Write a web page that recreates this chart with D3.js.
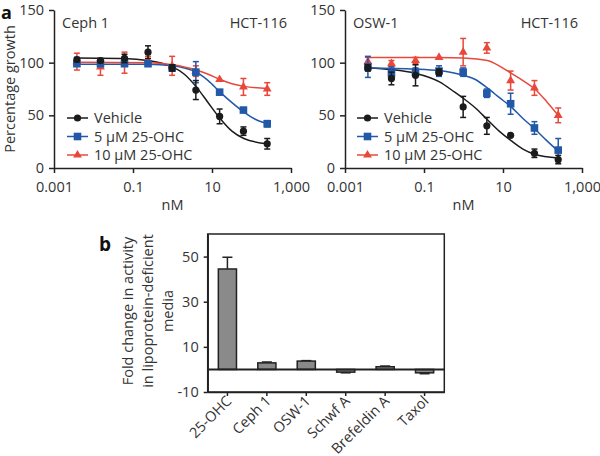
<!DOCTYPE html>
<html>
<head>
<meta charset="utf-8">
<script src="https://cdn.jsdelivr.net/npm/d3@7"></script>
<style>
  body { margin: 0; background: #fff; }
  svg { display: block; font-family: "Open Sans", "Noto Sans", sans-serif; }
  .axis path, .axis line { stroke: #222; stroke-width: 1.5; }
  .axis text { fill: #333; font-size: 14.5px; font-family: "Open Sans", sans-serif; }
  .lbl { fill: #333; font-size: 14.5px; }
</style>
</head>
<body>
<svg id="fig" width="600" height="456"></svg>
<script>
  // ---------- data: panel a ----------
  const conc = [0.0038, 0.015, 0.061, 0.24, 0.98, 3.9, 15.6, 62.5, 250];
  const seriesNames = ["Vehicle", "5 \u03bcM 25-OHC", "10 \u03bcM 25-OHC"];
  const seriesColors = ["#1b1b1b", "#2158a8", "#e8483b"];
  const seriesShapes = ["circle", "square", "triangle"];

  // Ceph 1
  const cephVehicle = [103, 102, 104, 110, 95, 74, 49, 35, 23];
  const cephVehicleErr = [2, 2, 4, 6, 3, 9, 7, 4, 5];
  const ceph5 = [99, 99, 99, 99, 95, 91, 72, 55, 42];
  const ceph5Err = [2, 2, 2, 2, 2, 10, 2, 2, 3];
  const ceph10 = [101, 96, 100, 102, 97, 92, 84, 77, 75];
  const ceph10Err = [8, 8, 10, 4, 9, 5, 1, 8, 6];
  // fitted curves: [nM, %]
  const cephVehicleFit = [[0.0038, 104.5], [0.06, 104], [0.24, 102], [0.6, 99], [1, 96], [2, 89], [4, 77], [8, 62], [16, 47], [32, 35], [64, 28], [250, 23]];
  const ceph5Fit = [[0.0038, 98.5], [0.24, 98.5], [1, 97], [2, 95], [4, 91], [8, 83], [16, 72], [32, 62], [64, 53], [128, 46], [250, 42]];
  const ceph10Fit = [[0.0038, 100.5], [0.24, 100], [1, 98], [4, 93], [8, 89], [16, 84], [32, 80], [64, 77.5], [250, 75.5]];

  // OSW-1
  const oswVehicle = [95, 85, 88, 91, 58, 40, 31, 14, 8];
  const oswVehicleErr = [3, 6, 10, 3, 10, 8, 1, 4, 4];
  const osw5 = [96, 90, 91, 92, 91, 71, 61, 38, 17];
  const osw5Err = [10, 6, 4, 5, 4, 4, 10, 6, 11];
  const osw10 = [101, 99, 102, 105, 110, 114, 83, 76, 50];
  const osw10Err = [4, 3, 3, 1, 13, 5, 9, 7, 7];
  const oswVehicleFit = [[0.0038, 95], [0.015, 93.5], [0.06, 90], [0.24, 82], [0.6, 72], [1, 66], [2, 57], [4, 46], [8, 35], [16, 26], [32, 18], [64, 13], [250, 9.5]];
  const osw5Fit = [[0.0038, 95], [0.06, 94], [0.24, 92.5], [1, 88], [2, 84], [4, 76], [8, 67], [16, 58], [32, 47], [64, 37], [128, 26], [250, 16]];
  const osw10Fit = [[0.0038, 105], [0.24, 105], [1, 104.5], [4, 102], [8, 97], [16, 90], [32, 83], [64, 75], [128, 63], [250, 50]];

  const xTicksA = [0.001, 0.1, 10, 1000];
  const xTickLabelsA = ["0.001", "0.1", "10", "1,000"];
  const yTicksA = [0, 50, 100, 150];

  // ---------- data: panel b ----------
  const compounds = ["25-OHC", "Ceph 1", "OSW-1", "Schwf A", "Brefeldin A", "Taxol"];
  const foldChange = [44.5, 2.9, 3.7, -1.2, 1.2, -1.5];
  const foldErr = [5.2, 0.4, 0.2, 0.3, 0.3, 0.4];
  const yTicksB = [-10, 10, 30, 50];

  const svg = d3.select("#fig");

  const panels = [
    { title: "Ceph 1", left: 54, right: 291,
      pts: [cephVehicle, ceph5, ceph10], errs: [cephVehicleErr, ceph5Err, ceph10Err],
      fits: [cephVehicleFit, ceph5Fit, ceph10Fit], legendX: 67 },
    { title: "OSW-1", left: 345, right: 582,
      pts: [oswVehicle, osw5, osw10], errs: [oswVehicleErr, osw5Err, osw10Err],
      fits: [oswVehicleFit, osw5Fit, osw10Fit], legendX: 357 }
  ];

  function marker(g, shape, color, cx, cy) {
    if (shape === "circle") {
      g.append("circle").attr("cx", cx).attr("cy", cy).attr("r", 3.6).attr("fill", color);
    } else if (shape === "square") {
      g.append("rect").attr("x", cx - 3.8).attr("y", cy - 3.8).attr("width", 7.6).attr("height", 7.6).attr("fill", color);
    } else {
      g.append("path").attr("transform", `translate(${cx},${cy})`)
        .attr("d", d3.symbol(d3.symbolTriangle, 34)()).attr("fill", color);
    }
  }

  panels.forEach((p, pi) => {
    const x = d3.scaleLog().domain([0.001, 1000]).range([p.left, p.right]);
    const y = d3.scaleLinear().domain([0, 150]).range([168, 10]);
    const g = svg.append("g");

    g.append("g").attr("class", "axis").attr("transform", "translate(0,168)")
      .call(d3.axisBottom(x).tickValues(xTicksA).tickFormat((d, i) => xTickLabelsA[i])
        .tickSize(5).tickSizeOuter(0).tickPadding(9));
    g.append("g").attr("class", "axis").attr("transform", `translate(${p.left},0)`)
      .call(d3.axisLeft(y).tickValues(yTicksA).tickSize(5).tickSizeOuter(0).tickPadding(5));

    // fitted curves
    const line = d3.line().x(d => x(d[0])).y(d => y(d[1])).curve(d3.curveMonotoneX);
    p.fits.forEach((f, si) => {
      g.append("path").datum(f).attr("d", line)
        .attr("fill", "none").attr("stroke", seriesColors[si]).attr("stroke-width", 1.5);
    });

    // error bars + markers (red drawn first so black sits on top)
    [2, 1, 0].forEach(si => {
      const col = seriesColors[si];
      const eg = g.append("g");
      conc.forEach((c, i) => {
        const v = p.pts[si][i], e = p.errs[si][i];
        const cx = x(c);
        if (e > 1.5) {
          eg.append("line").attr("x1", cx).attr("x2", cx).attr("y1", y(v - e)).attr("y2", y(v + e))
            .attr("stroke", col).attr("stroke-width", 1.5);
          [v - e, v + e].forEach(t => {
            eg.append("line").attr("x1", cx - 3).attr("x2", cx + 3).attr("y1", y(t)).attr("y2", y(t))
              .attr("stroke", col).attr("stroke-width", 1.5);
          });
        }
        marker(eg, seriesShapes[si], col, cx, y(v));
      });
    });

    // titles
    g.append("text").attr("class", "lbl").attr("x", p.left + 8).attr("y", 28).text(p.title);
    g.append("text").attr("class", "lbl").attr("x", p.right - 4).attr("y", 28)
      .attr("text-anchor", "end").text("HCT-116");
    g.append("text").attr("class", "lbl").attr("x", (p.left + p.right) / 2).attr("y", 210)
      .attr("text-anchor", "middle").text("nM");

    // legend
    const ly = [118, 136.5, 155];
    seriesNames.forEach((n, si) => {
      const lg = g.append("g");
      lg.append("line").attr("x1", p.legendX).attr("x2", p.legendX + 21)
        .attr("y1", ly[si]).attr("y2", ly[si]).attr("stroke", seriesColors[si]).attr("stroke-width", 1.5);
      marker(lg, seriesShapes[si], seriesColors[si], p.legendX + 10.5, ly[si]);
      lg.append("text").attr("class", "lbl").attr("x", p.legendX + 27).attr("y", ly[si] + 5).text(n);
    });
  });

  svg.append("text").attr("transform", "translate(15,89) rotate(-90)")
    .attr("text-anchor", "middle").attr("class", "lbl").text("Percentage growth");
  svg.append("text").attr("x", 1).attr("y", 19).attr("font-size", 18).attr("font-weight", 700)
    .attr("fill", "#111").text("a");

  // ---------- panel b ----------
  const bx = d3.scaleBand().domain(compounds).range([207.7, 444.3]).paddingInner(0.54).paddingOuter(0.27);
  const by = d3.scaleLinear().domain([-10, 60]).range([392, 234]);
  const gb = svg.append("g");

  // frame
  gb.append("rect").attr("x", 207.7).attr("y", 234).attr("width", 444.3 - 207.7).attr("height", 392 - 234)
    .attr("fill", "none").attr("stroke", "#222").attr("stroke-width", 1.5);

  gb.append("g").attr("class", "axis").attr("transform", "translate(207.7,0)")
    .call(d3.axisLeft(by).tickValues(yTicksB).tickFormat(d => d < 0 ? "-" + Math.abs(d) : d)
      .tickSize(4).tickSizeOuter(0).tickPadding(5));
  gb.append("g").attr("class", "axis").attr("transform", "translate(0,392)")
    .call(d3.axisBottom(bx).tickSize(4).tickSizeOuter(0).tickFormat(""));

  compounds.forEach(c => {
    const cx = bx(c) + bx.bandwidth() / 2;
    gb.append("text").attr("class", "lbl")
      .attr("transform", `translate(${cx + 5},${402}) rotate(-45)`)
      .attr("text-anchor", "end").text(c);
  });

  // bars
  compounds.forEach((c, i) => {
    const v = foldChange[i], e = foldErr[i];
    const x0 = bx(c), w = bx.bandwidth(), cx = x0 + w / 2;
    const tip = v >= 0 ? v + e : v - e;
    gb.append("line").attr("x1", cx).attr("x2", cx).attr("y1", by(v)).attr("y2", by(tip))
      .attr("stroke", "#222").attr("stroke-width", 1.5);
    gb.append("line").attr("x1", cx - 5).attr("x2", cx + 5).attr("y1", by(tip)).attr("y2", by(tip))
      .attr("stroke", "#222").attr("stroke-width", 1.5);
    gb.append("rect").attr("x", x0).attr("width", w)
      .attr("y", by(Math.max(v, 0))).attr("height", Math.abs(by(v) - by(0)))
      .attr("fill", "#8a8a8a").attr("stroke", "#222").attr("stroke-width", 1.5);
  });

  // zero line
  gb.append("line").attr("x1", 207.7).attr("x2", 444.3).attr("y1", by(0)).attr("y2", by(0))
    .attr("stroke", "#222").attr("stroke-width", 2);

  const ylab = ["Fold change in activity", "in lipoprotein-deficient", "media"];
  ylab.forEach((t, i) => {
    gb.append("text").attr("class", "lbl").attr("text-anchor", "middle")
      .attr("transform", `translate(${133 + i * 20},311) rotate(-90)`).text(t);
  });
  svg.append("text").attr("x", 99).attr("y", 251).attr("font-size", 19).attr("font-weight", 700)
    .attr("fill", "#111").text("b");
</script>
</body>
</html>
